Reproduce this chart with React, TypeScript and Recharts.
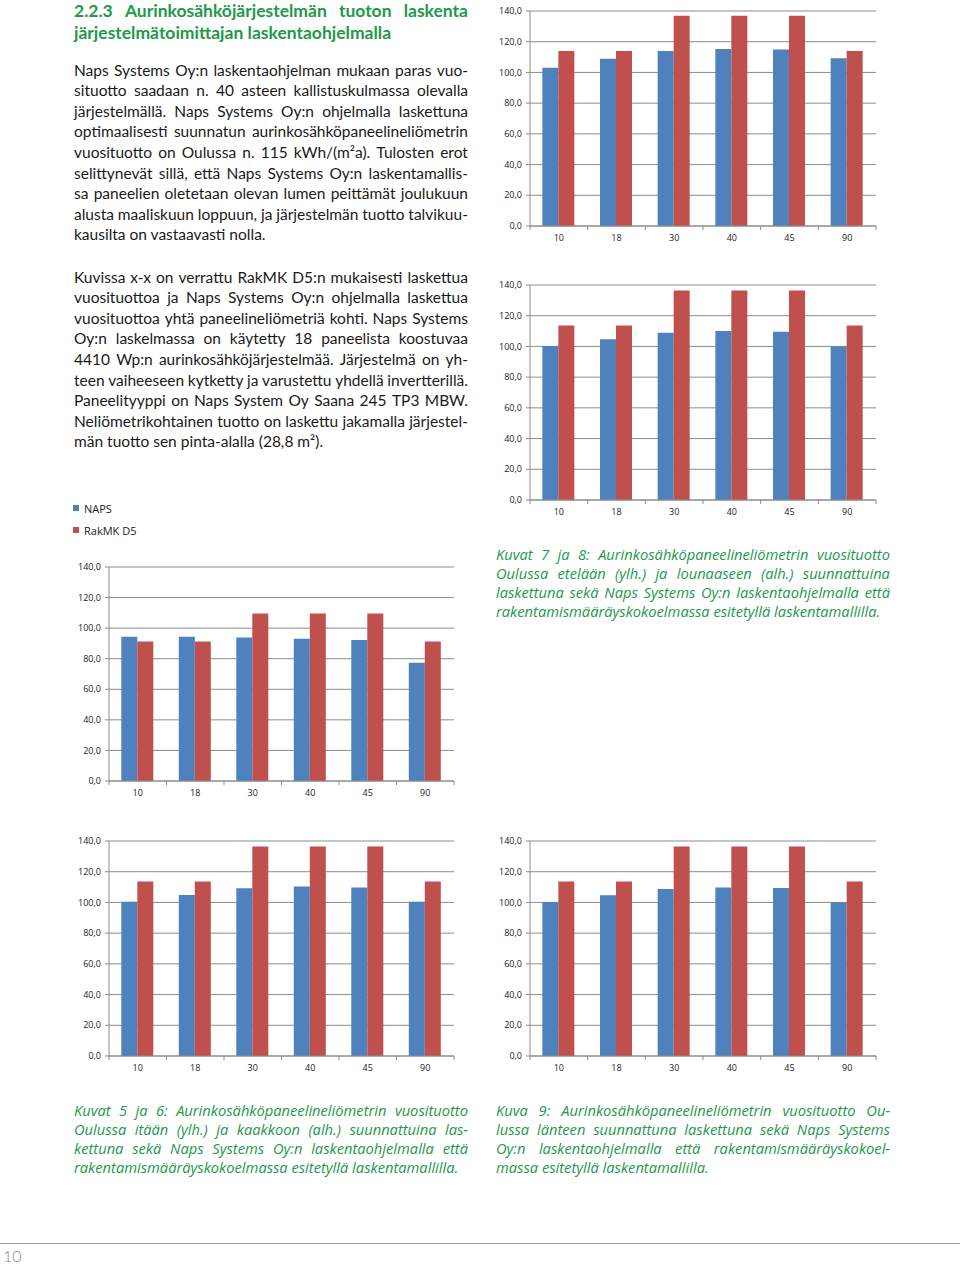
import React from 'react';
import { BarChart, Bar, XAxis, YAxis, CartesianGrid, Legend } from 'recharts';

// ---- data ----
const angles = ['10', '18', '30', '40', '45', '90'];
const yTicks = [0, 20, 40, 60, 80, 100, 120, 140];

const southNaps = [103.0, 108.9, 113.9, 115.2, 115.0, 109.3];
const southRak = [113.9, 113.9, 136.9, 136.9, 136.9, 113.9];
const southwestNaps = [100.2, 104.7, 108.9, 110.0, 109.5, 99.9];
const southwestRak = [113.6, 113.6, 136.5, 136.5, 136.5, 113.6];
const eastNaps = [94.3, 94.3, 93.8, 93.0, 92.3, 77.3];
const eastRak = [91.2, 91.2, 109.5, 109.5, 109.5, 91.2];
const southeastNaps = [100.5, 104.8, 109.2, 110.3, 109.8, 100.5];
const southeastRak = [113.7, 113.7, 136.5, 136.5, 136.5, 113.7];
const westNaps = [100.3, 104.6, 108.7, 109.8, 109.4, 100.1];
const westRak = [113.7, 113.7, 136.5, 136.5, 136.5, 113.7];

const seriesNames = ['NAPS', 'RakMK D5'];

const headingLines = [
  '2.2.3 Aurinkosähköjärjestelmän tuoton laskenta',
  'järjestelmätoimittajan laskentaohjelmalla',
];
const para1 = [
  'Naps Systems Oy:n laskentaohjelman mukaan paras vuo-',
  'situotto saadaan n. 40 asteen kallistuskulmassa olevalla',
  'järjestelmällä. Naps Systems Oy:n ohjelmalla laskettuna',
  'optimaalisesti suunnatun aurinkosähköpaneelineliömetrin',
  'vuosituotto on Oulussa n. 115 kWh/(m²a). Tulosten erot',
  'selittynevät sillä, että Naps Systems Oy:n laskentamallis-',
  'sa paneelien oletetaan olevan lumen peittämät joulukuun',
  'alusta maaliskuun loppuun, ja järjestelmän tuotto talvikuu-',
  'kausilta on vastaavasti nolla.',
];
const para2 = [
  'Kuvissa x-x on verrattu RakMK D5:n mukaisesti laskettua',
  'vuosituottoa ja Naps Systems Oy:n ohjelmalla laskettua',
  'vuosituottoa yhtä paneelineliömetriä kohti. Naps Systems',
  'Oy:n laskelmassa on käytetty 18 paneelista koostuvaa',
  '4410 Wp:n aurinkosähköjärjestelmää. Järjestelmä on yh-',
  'teen vaiheeseen kytketty ja varustettu yhdellä invertterillä.',
  'Paneelityyppi on Naps System Oy Saana 245 TP3 MBW.',
  'Neliömetrikohtainen tuotto on laskettu jakamalla järjestel-',
  'män tuotto sen pinta-alalla (28,8 m²).',
];
const caption78 = [
  'Kuvat 7 ja 8: Aurinkosähköpaneelineliömetrin vuosituotto',
  'Oulussa etelään (ylh.) ja lounaaseen (alh.) suunnattuina',
  'laskettuna sekä Naps Systems Oy:n laskentaohjelmalla että',
  'rakentamismääräyskokoelmassa esitetyllä laskentamallilla.',
];
const caption56 = [
  'Kuvat 5 ja 6: Aurinkosähköpaneelineliömetrin vuosituotto',
  'Oulussa itään (ylh.) ja kaakkoon (alh.) suunnattuina las-',
  'kettuna sekä Naps Systems Oy:n laskentaohjelmalla että',
  'rakentamismääräyskokoelmassa esitetyllä laskentamallilla.',
];
const caption9 = [
  'Kuva 9: Aurinkosähköpaneelineliömetrin vuosituotto Ou-',
  'lussa länteen suunnattuna laskettuna sekä Naps Systems',
  'Oy:n laskentaohjelmalla että rakentamismääräyskokoel-',
  'massa esitetyllä laskentamallilla.',
];
const pageNumber = '10';

// ---- styles ----
const GRID = '#8c8c8c';
const BLUE = '#4F81BD';
const RED = '#C0504D';
const GREEN = '#23984a';
const CHART_FONT = 'Open Sans';
const TEXT_FONT = 'Lato';

const fmt = (v: number) => v.toFixed(1).replace('.', ',');

function XTick(props: any) {
  const { x, y, payload, index, visibleTicksCount, band } = props;
  const h = band / 2;
  return (
    <g>
      <line x1={x - h} x2={x - h} y1={y} y2={y + 4} stroke={GRID} />
      {index === visibleTicksCount - 1 && (
        <line x1={x + h} x2={x + h} y1={y} y2={y + 4} stroke={GRID} />
      )}
      <text x={x} y={y + 11} textAnchor="middle" dominantBaseline="central" fontSize={9} fill="#222" fontFamily={CHART_FONT}>
        {payload.value}
      </text>
    </g>
  );
}

const renderLegend = (props: any) => (
  <div style={{ fontFamily: CHART_FONT, fontSize: 11, color: '#222' }}>
    {(props.payload || []).map((p: any) => (
      <div key={p.value} style={{ display: 'flex', alignItems: 'center', height: 22 }}>
        <span style={{ display: 'inline-block', width: 6, height: 6, background: p.color, marginRight: 5 }} />
        {p.value}
      </div>
    ))}
  </div>
);

function SolarChart(props: {
  naps: number[]; rak: number[]; left: number; top: number; width: number; height: number; marginTop: number; legend?: boolean;
}) {
  const { naps, rak, left, top, width, height, marginTop, legend } = props;
  const data = angles.map((a, i) => ({ angle: a, naps: naps[i], rak: rak[i] }));
  const right = 14;
  const band = (width - 40 - right) / angles.length;
  return (
    <div style={{ position: 'absolute', left, top, width, height }}>
      <BarChart width={width} height={height} data={data}
        margin={{ top: marginTop, right, bottom: 4, left: 0 }}
        barCategoryGap="21.4%" barGap={0}>
        <CartesianGrid vertical={false} stroke={GRID} />
        <XAxis dataKey="angle" height={20} stroke={GRID} tickSize={0} tickMargin={0} interval={0}
          tick={<XTick band={band} />} />
        <YAxis width={40} domain={[0, 140]} ticks={yTicks} tickFormatter={fmt} interval={0}
          tickSize={4} tickMargin={4} stroke={GRID}
          tick={{ fill: '#222', fontSize: 9, fontFamily: CHART_FONT }} />
        <Bar dataKey="naps" name={seriesNames[0]} fill={BLUE} isAnimationActive={false} />
        <Bar dataKey="rak" name={seriesNames[1]} fill={RED} isAnimationActive={false} />
        {legend && (
          <Legend layout="vertical" align="center" verticalAlign="middle" content={renderLegend}
            wrapperStyle={{ left: 4, top: 2, width: 120, height: 46 }} />
        )}
      </BarChart>
    </div>
  );
}

function TextBlock(props: {
  lines: string[]; left: number; top: number; width: number; lineHeight: number; style: React.CSSProperties; justifyLast?: boolean;
}) {
  const { lines, left, top, width, lineHeight, style, justifyLast } = props;
  return (
    <div style={{ position: 'absolute', left, top, width, ...style }}>
      {lines.map((ln, i) => {
        const last = i === lines.length - 1 && !justifyLast;
        if (last) {
          return <div key={i} style={{ height: lineHeight, lineHeight: lineHeight + 'px', whiteSpace: 'nowrap' }}>{ln}</div>;
        }
        const words = ln.split(' ');
        return (
          <div key={i} style={{ height: lineHeight, lineHeight: lineHeight + 'px', display: 'flex', justifyContent: 'space-between', whiteSpace: 'nowrap' }}>
            {words.map((w, j) => <span key={j}>{w}</span>)}
          </div>
        );
      })}
    </div>
  );
}

export default function App() {
  const bodyStyle: React.CSSProperties = { fontFamily: TEXT_FONT, fontSize: 15.5, color: '#1a1a1a' };
  const capStyle: React.CSSProperties = { fontFamily: 'Open Sans', fontSize: 14.7, fontStyle: 'italic', color: GREEN };
  return (
    <div style={{ position: 'absolute', left: 0, top: 0, width: 960, height: 1265, background: '#fff', overflow: 'hidden' }}>
      <TextBlock lines={headingLines} left={74} top={0} width={394} lineHeight={21.5}
        style={{ fontFamily: TEXT_FONT, fontSize: 17.5, fontWeight: 700, color: GREEN }} />
      <TextBlock lines={para1} left={74} top={59.7} width={394} lineHeight={20.6} style={bodyStyle} />
      <TextBlock lines={para2} left={74} top={266.7} width={394} lineHeight={20.6} style={bodyStyle} />

      <SolarChart naps={southNaps} rak={southRak} left={490} top={0} width={400} height={250} marginTop={11} />
      <SolarChart naps={southwestNaps} rak={southwestRak} left={490} top={274} width={400} height={250} marginTop={11} />
      <SolarChart naps={eastNaps} rak={eastRak} left={69} top={495} width={399} height={310} marginTop={72} legend />
      <SolarChart naps={southeastNaps} rak={southeastRak} left={69} top={830} width={399} height={250} marginTop={11} />
      <SolarChart naps={westNaps} rak={westRak} left={490} top={830} width={400} height={250} marginTop={11} />

      <TextBlock lines={caption78} left={496} top={544.5} width={394} lineHeight={19} style={capStyle} />
      <TextBlock lines={caption56} left={74} top={1100.5} width={394} lineHeight={19} style={capStyle} />
      <TextBlock lines={caption9} left={496} top={1100.5} width={394} lineHeight={19} style={capStyle} />

      <div style={{ position: 'absolute', left: 0, top: 1243, width: 960, height: 1, background: '#a0a0a0' }} />
      <div style={{ position: 'absolute', left: 3, top: 1246, fontFamily: TEXT_FONT, fontWeight: 300, fontSize: 16, color: '#8a8a8a', lineHeight: '20px' }}>
        {pageNumber}
      </div>
    </div>
  );
}
